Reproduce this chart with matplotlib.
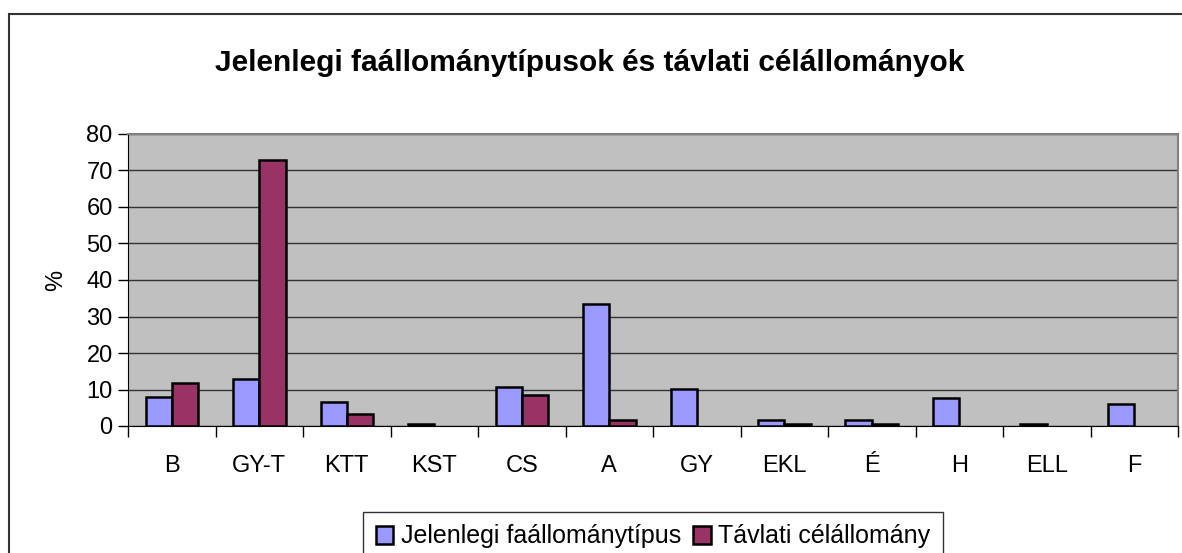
import matplotlib.pyplot as plt
import numpy as np
from matplotlib.patches import Rectangle

plt.rcParams['font.family'] = ['Liberation Sans', 'DejaVu Sans']

categories = ["B", "GY-T", "KTT", "KST", "CS", "A", "GY", "EKL", "É", "H", "ELL", "F"]
jelenlegi = [8.0, 13.0, 6.6, 0.6, 10.8, 33.5, 10.2, 1.6, 1.6, 7.6, 0.5, 6.0]
tavlati = [11.8, 73.0, 3.2, 0.0, 8.6, 1.6, 0.0, 0.6, 0.6, 0.0, 0.0, 0.0]

W, H = 1182, 553
fig = plt.figure(figsize=(W / 100, H / 100), dpi=100)
fig.patches.append(Rectangle((9 / W, -0.2), 1.2, 1.2 - 14 / H,
                             transform=fig.transFigure, fill=False,
                             edgecolor='#333333', linewidth=1.5))

ax = fig.add_axes([128 / W, 1 - 426 / H, (1178 - 128) / W, (426 - 134) / H])
ax.set_facecolor('#C0C0C0')

x = np.arange(len(categories))
bw = 0.3
lw1 = [1.8 if v > 0 else 0 for v in jelenlegi]
lw2 = [1.8 if v > 0 else 0 for v in tavlati]
ax.bar(x - bw / 2, jelenlegi, bw, color='#9999FF', edgecolor='black', linewidth=lw1,
       label='Jelenlegi faállománytípus', zorder=3)
ax.bar(x + bw / 2, tavlati, bw, color='#993366', edgecolor='black', linewidth=lw2,
       label='Távlati célállomány', zorder=3)

ax.set_xlim(-0.5, len(categories) - 0.5)
ax.set_ylim(0, 80)
ax.set_yticks(range(0, 81, 10))
ax.yaxis.grid(True, color='#333333', linewidth=1)
ax.set_axisbelow(True)

ax.set_xticks(np.arange(-0.5, len(categories), 1))
ax.set_xticklabels([])
ax.set_xticks(x, minor=True)
ax.set_xticklabels(categories, minor=True)
ax.tick_params(axis='x', which='major', length=8, width=1, direction='out')
ax.tick_params(axis='x', which='minor', length=0, pad=21, labelsize=17)
ax.tick_params(axis='y', length=7, width=1, labelsize=17, pad=4)

for s in ['top', 'right']:
    ax.spines[s].set_color('#808080')
    ax.spines[s].set_linewidth(1.5)
ax.spines['left'].set_color('black')
ax.spines['bottom'].set_color('black')

ax.set_ylabel('%', fontsize=17, labelpad=14)

fig.text(590 / W, 1 - 63 / H, 'Jelenlegi faállománytípusok és távlati célállományok',
         ha='center', va='center', fontsize=21.5, fontweight='bold')

leg = fig.legend(loc='upper center', bbox_to_anchor=(653 / W, 1 - 512 / H), ncol=2,
                 fontsize=18, frameon=True, fancybox=False, edgecolor='black',
                 handlelength=0.7, handleheight=0.7, handletextpad=0.3,
                 columnspacing=0.5, borderpad=0.5, borderaxespad=0)
leg.get_frame().set_linewidth(1)

fig.savefig('out.png', dpi=100)
